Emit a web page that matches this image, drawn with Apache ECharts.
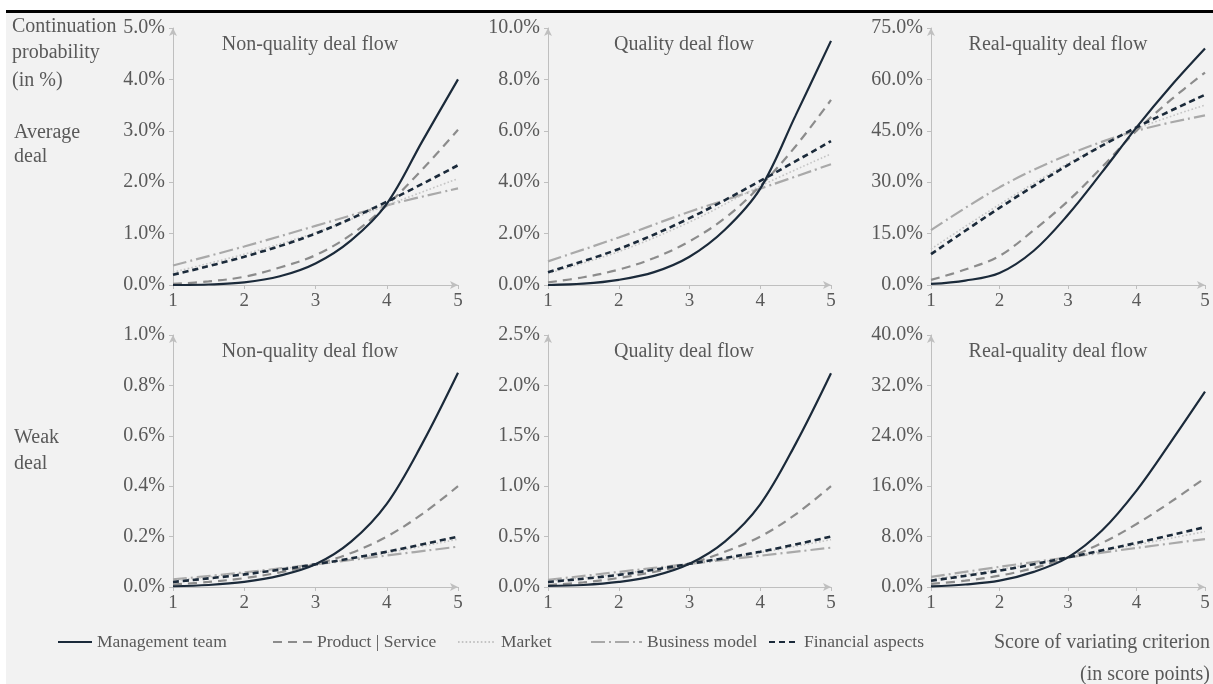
<!DOCTYPE html>
<html>
<head>
<meta charset="utf-8">
<script src="https://cdn.jsdelivr.net/npm/echarts@6/dist/echarts.min.js"></script>
<style>
  html, body { margin: 0; padding: 0; background: #ffffff; }
  #chart { width: 1213px; height: 684px; }
</style>
</head>
<body>
<div id="chart"></div>
<script>
// Score points of the varied criterion
const scoreFine = [1, 1.5, 2, 2.5, 3, 3.5, 4, 4.5, 5];
const scoreCoarse = [1, 2, 3, 4, 5];

// Panel order: average deal (non-quality, quality, real-quality), then weak deal (same order)
const panelTitles = ['Non-quality deal flow', 'Quality deal flow', 'Real-quality deal flow',
                     'Non-quality deal flow', 'Quality deal flow', 'Real-quality deal flow'];
const yMax  = [5, 10, 75, 1, 2.5, 40];
const yStep = [1, 2, 15, 0.2, 0.5, 8];

// Continuation probability in % (one row per panel), sampled at scoreFine
const managementTeam = [
  [0.00, 0.01, 0.05, 0.17, 0.42, 0.87, 1.58, 2.80, 4.00],
  [0.00, 0.05, 0.20, 0.50, 1.10, 2.15, 3.75, 6.60, 9.50],
  [0.3, 1.3, 3.5, 10.0, 20.5, 33.0, 46.0, 58.0, 69.0],
  [0.003, 0.008, 0.020, 0.045, 0.090, 0.180, 0.330, 0.570, 0.850],
  [0.01, 0.02, 0.05, 0.11, 0.23, 0.45, 0.82, 1.42, 2.12],
  [0.1, 0.4, 1.0, 2.4, 4.7, 9.0, 15.3, 23.0, 31.0]
];
const productService = [
  [0.02, 0.07, 0.16, 0.34, 0.58, 0.98, 1.55, 2.25, 3.02],
  [0.10, 0.30, 0.60, 1.05, 1.70, 2.60, 3.85, 5.40, 7.20],
  [1.5, 4.5, 8.5, 16.0, 24.5, 34.5, 45.0, 54.0, 62.0],
  [0.010, 0.020, 0.035, 0.058, 0.090, 0.135, 0.200, 0.290, 0.400],
  [0.02, 0.045, 0.09, 0.15, 0.23, 0.35, 0.50, 0.72, 1.00],
  [0.5, 1.0, 1.8, 3.0, 4.7, 7.0, 10.0, 13.5, 17.3]
];
// Sampled at scoreCoarse
const market = [
  [0.25, 0.60, 1.02, 1.55, 2.07],
  [0.45, 1.30, 2.45, 3.85, 5.10],
  [10.5, 23.5, 35.5, 45.5, 52.5],
  [0.025, 0.055, 0.090, 0.135, 0.190],
  [0.06, 0.13, 0.23, 0.34, 0.47],
  [1.2, 2.8, 4.7, 6.7, 8.8]
];
const businessModel = [
  [0.38, 0.75, 1.15, 1.55, 1.88],
  [0.92, 1.85, 2.85, 3.75, 4.70],
  [16.0, 28.5, 38.0, 45.0, 49.5],
  [0.030, 0.058, 0.090, 0.125, 0.160],
  [0.07, 0.15, 0.23, 0.31, 0.39],
  [1.6, 3.2, 4.7, 6.2, 7.6]
];
const financialAspects = [
  [0.20, 0.55, 1.00, 1.62, 2.33],
  [0.50, 1.40, 2.60, 4.05, 5.60],
  [9.0, 22.5, 35.0, 46.0, 55.5],
  [0.020, 0.050, 0.090, 0.140, 0.200],
  [0.05, 0.12, 0.23, 0.35, 0.50],
  [1.0, 2.6, 4.7, 7.0, 9.5]
];

const FONT = "'Liberation Serif', 'Times New Roman', serif";
const TEXT = '#595959';
const AXIS = '#bfbfbf';
const NAVY = '#1b2a3a';

// Line styles, listed in drawing order (solid management line on top)
const lineDefs = [
  { name: 'Business model',    values: businessModel,    xs: scoreCoarse, color: '#a9a9a9', width: 2.2, type: [14, 4, 2, 4], z: 2 },
  { name: 'Market',            values: market,           xs: scoreCoarse, color: '#c4c4c4', width: 1.6, type: [1.6, 2.2],   z: 3 },
  { name: 'Product | Service', values: productService,   xs: scoreFine,   color: '#8c8c8c', width: 2.2, type: [9, 6],       z: 4 },
  { name: 'Financial aspects', values: financialAspects, xs: scoreCoarse, color: NAVY,      width: 2.6, type: [6, 4],       z: 5 },
  { name: 'Management team',   values: managementTeam,   xs: scoreFine,   color: NAVY,      width: 2.2, type: 'solid',      z: 6 }
];

// Plot rectangles in pixels
const colLeft  = [173, 548, 931];
const colWidth = [285, 283, 274];
const rowTop    = [28, 335];
const rowHeight = [257, 252];

const grids = [], xAxes = [], yAxes = [], series = [];
for (let p = 0; p < 6; p++) {
  const c = p % 3, r = Math.floor(p / 3);
  grids.push({ left: colLeft[c], top: rowTop[r], width: colWidth[c], height: rowHeight[r], containLabel: false });
  xAxes.push({
    type: 'value', gridIndex: p, min: 1, max: 5, interval: 1,
    splitLine: { show: false },
    axisLine: { show: true, lineStyle: { color: AXIS, width: 1 }, symbol: ['none', 'arrow'], symbolSize: [6, 8] },
    axisTick: { show: true, length: 4, lineStyle: { color: AXIS } },
    axisLabel: { color: TEXT, fontFamily: FONT, fontSize: 19, margin: 7 }
  });
  yAxes.push({
    type: 'value', gridIndex: p, min: 0, max: yMax[p], interval: yStep[p],
    splitLine: { show: false },
    axisLine: { show: true, lineStyle: { color: AXIS, width: 1 }, symbol: ['none', 'arrow'], symbolSize: [6, 8] },
    axisTick: { show: true, length: 4, lineStyle: { color: AXIS } },
    axisLabel: { color: TEXT, fontFamily: FONT, fontSize: 20, margin: 8,
                 formatter: v => v.toFixed(1) + '%' }
  });
  lineDefs.forEach(d => {
    series.push({
      name: d.name, type: 'line', xAxisIndex: p, yAxisIndex: p,
      data: d.xs.map((x, i) => [x, d.values[p][i]]),
      smooth: 0.35, symbol: 'none', z: d.z,
      lineStyle: { color: d.color, width: d.width, type: d.type },
      itemStyle: { color: d.color }
    });
  });
}

// Legend entries, each placed on its own; only the line sample is shown
const legendSpots = [
  { name: 'Management team',   left: 57,  w: 34 },
  { name: 'Product | Service', left: 272, w: 39 },
  { name: 'Market',            left: 457, w: 38 },
  { name: 'Business model',    left: 590, w: 51 },
  { name: 'Financial aspects', left: 768, w: 30 }
];
const legends = legendSpots.map(l => ({
  data: [l.name], left: l.left, top: 633, itemWidth: l.w, itemHeight: 14, padding: 0,
  selectedMode: false,
  itemStyle: { opacity: 0 },
  textStyle: { color: TEXT, fontFamily: FONT, fontSize: 17.5 }
}));

const txt = (text, x, y, align, size) => ({
  type: 'text', x: x, y: y, silent: true,
  style: { text: text, fill: TEXT, font: (size || 20) + 'px ' + FONT,
           textAlign: align || 'left', textVerticalAlign: 'middle', align: align || 'left', verticalAlign: 'middle' }
});
const titleX = [310, 684, 1058];
const graphics = [
  { type: 'rect', shape: { x: 6, y: 13, width: 1207, height: 671 }, style: { fill: '#f2f2f2' }, z: -10, silent: true },
  { type: 'rect', shape: { x: 6, y: 10, width: 1207, height: 3 }, style: { fill: '#000000' }, z: -9, silent: true },
  txt('Continuation', 12, 27), txt('probability', 12, 53), txt('(in %)', 12, 81),
  txt('Average', 14, 133), txt('deal', 14, 157),
  txt('Weak', 14, 438), txt('deal', 14, 464),
  txt('Score of variating criterion', 1210, 643, 'right'),
  txt('(in score points)', 1210, 675, 'right')
];
for (let p = 0; p < 6; p++) {
  graphics.push(txt(panelTitles[p], titleX[p % 3], p < 3 ? 45 : 352, 'center'));
}

const chart = echarts.init(document.getElementById('chart'), null, { renderer: 'canvas' });
chart.setOption({
  animation: false,
  grid: grids, xAxis: xAxes, yAxis: yAxes, series: series,
  legend: legends,
  graphic: { elements: graphics }
});
</script>
</body>
</html>
